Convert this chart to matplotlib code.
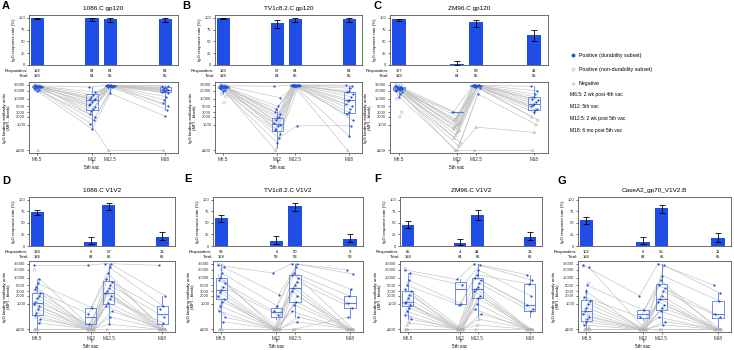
import numpy as np
import matplotlib
matplotlib.use('Agg')
import matplotlib.pyplot as plt
import matplotlib.transforms as mtransforms
from matplotlib.lines import Line2D

# time points and their spacing along x
times = ['M6.5', 'M12', 'M12.5', 'M18']
xpos = [1, 4, 5, 8]

titles = ['1086.C gp120', 'TV1c8.2.C gp120', 'ZM96.C gp120',
          '1086.C V1V2', 'TV1c8.2.C V1V2', 'ZM96.C V1V2', 'CaseA2_gp70_V1V2.B']
letters = ['A', 'B', 'C', 'D', 'E', 'F', 'G']

# responders / totals per time point
a_resp = [182, 64, 64, 64]; a_total = [183, 64, 65, 65]
b_resp = [183, 57, 64, 64]; b_total = [184, 64, 65, 65]
c_resp = [177, 1, 59, 41]; c_total = [183, 64, 65, 65]
d_resp = [134, 6, 57, 13]; d_total = [184, 64, 65, 65]
e_resp = [96, 6, 50, 9]; e_total = [158, 58, 58, 58]
f_resp = [85, 4, 44, 13]; f_total = [184, 64, 65, 65]
g_resp = [102, 6, 53, 11]; g_total = [184, 64, 65, 65]

# 95% CI of response rate (%), low / high
a_lo = [97.0, 94.3, 91.8, 91.8]; a_hi = [99.9, 100, 99.7, 99.7]
b_lo = [97.0, 79.1, 91.8, 91.8]; b_hi = [99.9, 94.6, 99.7, 99.7]
c_lo = [93.0, 0.3, 81.3, 50.9]; c_hi = [98.5, 8.3, 95.7, 73.8]
d_lo = [66.0, 4.4, 77.5, 12.1]; d_hi = [78.7, 19.0, 93.6, 31.3]
e_lo = [53.0, 4.8, 75.1, 8.4]; e_hi = [68.0, 20.8, 92.8, 26.9]
f_lo = [39.2, 2.5, 55.6, 12.1]; f_hi = [53.4, 15.0, 77.8, 31.3]
g_lo = [48.2, 4.4, 70.4, 9.7]; g_hi = [62.4, 19.0, 89.1, 27.8]

# box stats of positive responders: (q1, median, q3, whisker low, whisker high)
a_box = [(27000, 30000, 32000, 20000, 35000), (3800, 9000, 15000, 680, 28000),
         (30000, 32000, 33000, 16000, 35000), (17500, 22000, 28000, 3800, 33000)]
b_box = [(26000, 29000, 31000, 15000, 34000), (590, 1060, 1800, 120, 4000),
         (31000, 32500, 33500, 28000, 35000), (2800, 8600, 18000, 340, 35000)]
c_box = [(22000, 25000, 28000, 12000, 34000), (3000, 3000, 3000, 3000, 3000),
         (30000, 32000, 33000, 25000, 35000), (3500, 6500, 12000, 2500, 30000)]
d_box = [(370, 1060, 2500, 100, 9000), (156, 316, 660, 140, 800),
         (1000, 2600, 7200, 160, 35000), (156, 410, 830, 140, 2000)]
e_box = [(1480, 3360, 10000, 120, 35000), (316, 480, 700, 250, 800),
         (1200, 4000, 13000, 300, 35000), (700, 1100, 2000, 270, 3500)]
f_box = [(820, 1160, 3160, 250, 15000), (950, 3500, 6700, 900, 8500),
         (1580, 3800, 10000, 300, 35000), (530, 870, 5800, 300, 13000)]
g_box = [(218, 500, 1370, 100, 3500), (290, 380, 560, 230, 600),
         (575, 1500, 5700, 170, 35000), (290, 410, 1300, 130, 2500)]

# positivity cut-offs per time point (below = negative)
a_cut = [150, 150, 150, 150]
b_cut = [150, 150, 150, 150]
c_cut = [2000, 2900, 2000, 2400]
d_cut = [140, 140, 140, 140]
e_cut = [140, 140, 140, 140]
f_cut = [250, 800, 300, 300]
g_cut = [140, 140, 140, 140]

# durability subset, same subjects in the same order at each visit
a_m6_5 = [32000, 30000, 31000, 29000, 33000, 28000, 30000, 27000, 31000, 26000, 29000, 25000, 30000, 24000, 28000, 22000, 20000, 27000]
a_m12 = [28000, 18000, 14000, 12000, 10000, 9500, 8500, 7500, 6500, 5500, 4800, 4000, 3200, 2500, 2000, 1500, 680, 1100]
a_m12_5 = [33000, 32000, 33000, 32000, 33000, 31000, 32000, 32000, 33000, 31000, 32000, 30000, 31000, 29000, 30000, 28000, 16000, 100]
a_m18 = [32000, 30000, 26000, 25000, 24000, 22000, 21000, 20000, 19000, 18000, 16000, 12000, 9000, 7000, 5000, 3800, 2100, 100]

b_m6_5 = [32000, 31000, 30000, 29000, 33000, 28000, 30000, 27000, 31000, 26000, 29000, 25000, 30000, 24000, 28000, 22000, 20000, 27000]
b_m12 = [30000, 11000, 5000, 4000, 3000, 2500, 2000, 1800, 1500, 1200, 1000, 850, 700, 600, 450, 300, 200, 100]
b_m12_5 = [34000, 33000, 33000, 32000, 34000, 33000, 32000, 33000, 34000, 32000, 33000, 31000, 32000, 33000, 31000, 900, 30000, 32000]
b_m18 = [33000, 30000, 25000, 20000, 18000, 15000, 12000, 9000, 8000, 6000, 5000, 4000, 3000, 2500, 1500, 900, 350, 100]

c_m6_5 = [30000, 28000, 27000, 25000, 32000, 24000, 26000, 23000, 29000, 22000, 25000, 21000, 27000, 20000, 18000, 15000, 12000, 24000]
c_m12 = [3000, 2500, 2000, 1600, 1400, 1200, 1000, 900, 800, 700, 600, 500, 400, 300, 200, 150, 100, 100]
c_m12_5 = [33000, 33000, 32000, 34000, 33000, 32000, 33000, 31000, 33000, 32000, 30000, 31000, 28000, 32000, 25000, 15000, 800, 100]
c_m18 = [30000, 20000, 15000, 12000, 10000, 9000, 7500, 6500, 5500, 5000, 4000, 3500, 3000, 2000, 1500, 1000, 500, 100]

d_m6_5 = [30000, 9000, 6000, 4500, 3500, 2500, 2000, 1600, 1200, 1000, 800, 600, 450, 350, 250, 180, 100, 100]
d_m12 = [30000, 100, 700, 100, 400, 100, 100, 100, 160, 100, 100, 100, 100, 100, 100, 100, 100, 100]
d_m12_5 = [35000, 33000, 25000, 15000, 9000, 7000, 5000, 4000, 3000, 2600, 2000, 1500, 1100, 800, 500, 300, 160, 100]
d_m18 = [30000, 2000, 800, 100, 600, 100, 300, 100, 100, 100, 100, 180, 100, 100, 100, 100, 100, 100]

e_m6_5 = [30000, 25000, 15000, 10000, 8000, 6000, 4500, 3400, 2800, 2000, 1500, 1200, 800, 500, 300, 200, 100, 100]
e_m12 = [15000, 2200, 800, 100, 500, 100, 350, 100, 100, 100, 100, 100, 100, 100, 100, 100, 100, 100]
e_m12_5 = [35000, 33000, 25000, 15000, 13000, 10000, 7000, 5000, 4000, 3000, 2000, 1200, 900, 500, 300, 200, 100, 100]
e_m18 = [20000, 14000, 3500, 2000, 1100, 100, 700, 100, 100, 100, 100, 100, 100, 100, 100, 100, 100, 300]

f_m6_5 = [20000, 15000, 8000, 5000, 3500, 3000, 2200, 1600, 1200, 1100, 900, 700, 500, 350, 250, 180, 100, 100]
f_m12 = [8500, 5000, 1000, 900, 100, 100, 100, 100, 100, 100, 100, 100, 100, 100, 100, 100, 100, 100]
f_m12_5 = [35000, 30000, 20000, 13000, 10000, 8000, 6000, 4500, 3800, 3000, 2000, 1600, 1000, 600, 400, 250, 150, 100]
f_m18 = [13000, 8000, 2000, 5800, 900, 600, 500, 100, 100, 100, 100, 100, 100, 100, 100, 100, 100, 100]

g_m6_5 = [30000, 25000, 5000, 3000, 1800, 1300, 1000, 700, 500, 400, 300, 250, 200, 150, 100, 100, 100, 100]
g_m12 = [2000, 100, 550, 100, 300, 100, 100, 100, 100, 100, 100, 100, 100, 100, 100, 100, 100, 100]
g_m12_5 = [35000, 30000, 12000, 8000, 5000, 4000, 3000, 2000, 1500, 1200, 900, 700, 500, 300, 200, 150, 100, 100]
g_m18 = [5000, 2500, 1300, 100, 400, 100, 300, 100, 100, 100, 100, 100, 100, 100, 100, 100, 100, 100]

# non-durability subset at M6.5 (no follow-up)
a_nd = [34000, 33000, 31000, 30500, 29500, 28500, 27500, 26500, 25000, 23000, 21000, 19000, 100]
b_nd = [34000, 33000, 32000, 31000, 30000, 29000, 27000, 25000, 22000, 18000, 15000, 12000, 7000]
c_nd = [34000, 33000, 31000, 30000, 28000, 26000, 24000, 20000, 17000, 14000, 10000, 3000, 2000]
d_nd = [20000, 8000, 5000, 3000, 2200, 1500, 1100, 900, 700, 500, 300, 200, 100, 100, 100]
e_nd = [33000, 28000, 20000, 12000, 7000, 4000, 2500, 1800, 1300, 900, 600, 400, 100, 100]
f_nd = [22000, 12000, 6000, 3000, 2000, 1500, 1200, 1000, 800, 600, 400, 300, 200, 150, 100]
g_nd = [28000, 6000, 2500, 1500, 1000, 800, 600, 450, 350, 250, 180, 120, 100, 100]

BAR_BLUE = '#1f4de6'
PT_BLUE = '#2450d8'
BOX_BLUE = '#5a7fe2'
OPEN_BLUE = '#9fb4ec'
NEG_GRAY = '#b3b3b3'
LINE_GRAY = '#c2c2c2'
FS = 3.0

plt.rcParams['font.family'] = ['Liberation Sans', 'DejaVu Sans']
plt.rcParams['axes.linewidth'] = 0.6
plt.rcParams['axes.edgecolor'] = '#555555'

fig = plt.figure(figsize=(7.34, 3.5), dpi=100)
W, H = 734.0, 350.0

# pixel layout: (left, right) for each panel, rows: (bar top, bar bottom, box top, box bottom)
xs = [(29, 178), (215, 362), (390, 548), (29, 175), (213, 363), (400, 542), (578, 731)]
rows = [(15, 65, 82, 153), (197, 246, 261, 332)]
letter_xy = [(2, 1), (182, 1), (374, 1), (2, 176), (184, 174), (374, 174), (557, 176)]

panels = [
    (a_resp, a_total, a_lo, a_hi, a_box, a_cut, [a_m6_5, a_m12, a_m12_5, a_m18], a_nd),
    (b_resp, b_total, b_lo, b_hi, b_box, b_cut, [b_m6_5, b_m12, b_m12_5, b_m18], b_nd),
    (c_resp, c_total, c_lo, c_hi, c_box, c_cut, [c_m6_5, c_m12, c_m12_5, c_m18], c_nd),
    (d_resp, d_total, d_lo, d_hi, d_box, d_cut, [d_m6_5, d_m12, d_m12_5, d_m18], d_nd),
    (e_resp, e_total, e_lo, e_hi, e_box, e_cut, [e_m6_5, e_m12, e_m12_5, e_m18], e_nd),
    (f_resp, f_total, f_lo, f_hi, f_box, f_cut, [f_m6_5, f_m12, f_m12_5, f_m18], f_nd),
    (g_resp, g_total, g_lo, g_hi, g_box, g_cut, [g_m6_5, g_m12, g_m12_5, g_m18], g_nd),
]

yticks = [100, 1000, 2000, 3000, 5000, 10000, 20000, 35000]
ytlabels = ['≤100', '1000', '2000', '3000', '5000', '10000', '20000', '35000']


def style_ticks(ax):
    ax.tick_params(labelsize=FS, length=1.5, width=0.5, pad=1.2, colors='#333333')


for k, (resp, total, lo, hi, box, cut, visits, nd) in enumerate(panels):
    x0, x1 = xs[k]
    r = rows[0] if k < 3 else rows[1]
    bt, bb, lt, lb = r
    ax_bar = fig.add_axes([x0 / W, 1 - bb / H, (x1 - x0) / W, (bb - bt) / H])
    ax_box = fig.add_axes([x0 / W, 1 - lb / H, (x1 - x0) / W, (lb - lt) / H])

    # --- response rate bars
    rate = [100.0 * n / t for n, t in zip(resp, total)]
    err = [np.array(rate) - np.array(lo), np.array(hi) - np.array(rate)]
    ax_bar.bar(xpos, rate, width=0.72, color=BAR_BLUE, zorder=2)
    ax_bar.errorbar(xpos, rate, yerr=err, fmt='none', ecolor='black',
                    elinewidth=0.6, capsize=2.2, capthick=0.6, zorder=3)
    ax_bar.set_xlim(0.55, 8.7)
    ax_bar.set_ylim(0, 106)
    ax_bar.set_yticks([0, 25, 50, 75, 100])
    ax_bar.set_xticks([])
    style_ticks(ax_bar)
    ax_bar.set_ylabel('IgG response rate (%)', fontsize=3.2, labelpad=2)
    ax_bar.set_title(titles[k], fontsize=4.6, pad=3.5)

    trans = mtransforms.blended_transform_factory(ax_bar.transData, ax_bar.transAxes)
    ax_bar.text(-0.005, -0.12, 'Responders:', transform=ax_bar.transAxes,
                ha='right', va='center', fontsize=FS)
    ax_bar.text(-0.005, -0.22, 'Total:', transform=ax_bar.transAxes,
                ha='right', va='center', fontsize=FS)
    for xp, n, t in zip(xpos, resp, total):
        ax_bar.text(xp, -0.12, str(n), transform=trans, ha='center', va='center', fontsize=FS)
        ax_bar.text(xp, -0.22, str(t), transform=trans, ha='center', va='center', fontsize=FS)

    # --- binding antibody panel
    n_sub = len(visits[0])
    jit = [((i * 7) % 9 - 4) * 0.045 for i in range(n_sub)]
    for i in range(n_sub):
        ax_box.plot([xpos[t] + jit[i] for t in range(4)], [visits[t][i] for t in range(4)],
                    color=LINE_GRAY, lw=0.45, zorder=1)

    stats = []
    for q1, med, q3, wlo, whi in box:
        stats.append(dict(q1=q1, med=med, q3=q3, whislo=wlo, whishi=whi, fliers=[]))
    ax_box.bxp(stats, positions=xpos, widths=0.62, showcaps=False, manage_ticks=False,
               boxprops=dict(color=BOX_BLUE, lw=0.6),
               medianprops=dict(color=BOX_BLUE, lw=0.8),
               whiskerprops=dict(color=BOX_BLUE, lw=0.6), zorder=2)

    # non-durability subset at M6.5
    jit_nd = [((i * 5) % 7 - 3) * 0.05 for i in range(len(nd))]
    for i, v in enumerate(nd):
        if v >= cut[0]:
            ax_box.scatter(xpos[0] + jit_nd[i], v, s=3.5, facecolors='none',
                           edgecolors=OPEN_BLUE, linewidths=0.4, zorder=3)
        else:
            ax_box.scatter(xpos[0] + jit_nd[i], v, s=3.5, marker='^', facecolors='none',
                           edgecolors=NEG_GRAY, linewidths=0.4, zorder=3)

    for t in range(4):
        for i, v in enumerate(visits[t]):
            if v >= cut[t]:
                ax_box.scatter(xpos[t] + jit[i], v, s=2.5, color=PT_BLUE, lw=0, zorder=4)
            else:
                ax_box.scatter(xpos[t] + jit[i], v, s=3.5, marker='^', facecolors='none',
                               edgecolors=NEG_GRAY, linewidths=0.4, zorder=3)

    ax_box.set_yscale('log')
    ax_box.set_ylim(80, 44000)
    ax_box.set_xlim(0.55, 8.7)
    ax_box.set_yticks(yticks)
    ax_box.set_yticklabels(ytlabels)
    ax_box.minorticks_off()
    ax_box.set_xticks(xpos)
    ax_box.set_xticklabels(times)
    style_ticks(ax_box)
    ax_box.tick_params(axis='x', labelsize=3.3)
    ax_box.set_ylabel('IgG binding antibody units\n(MFI - blank)', fontsize=3.2, labelpad=2,
                      linespacing=1.2)
    tb = mtransforms.blended_transform_factory(ax_box.transData, ax_box.transAxes)
    ax_box.text(xpos[1], -0.14, '↑', transform=tb, ha='center', va='center', fontsize=3.4,
                family=['DejaVu Sans'])
    ax_box.text(xpos[1], -0.205, '5th vac', transform=tb, ha='center', va='center', fontsize=3.3)

    lx, ly = letter_xy[k]
    fig.text(lx / W, 1 - ly / H, letters[k], fontsize=8, fontweight='bold', va='top')

# legend
handles = [
    Line2D([], [], ls='none', marker='o', ms=1.8, color=PT_BLUE, mec=PT_BLUE),
    Line2D([], [], ls='none', marker='o', ms=2.0, mfc='none', mec=OPEN_BLUE, mew=0.5),
    Line2D([], [], ls='none', marker='^', ms=2.0, mfc='none', mec=NEG_GRAY, mew=0.5),
]
labels = ['Positive (durability subset)', 'Positive (non-durability subset)', 'Negative']
fig.legend(handles, labels, loc='upper left', bbox_to_anchor=(568 / W, 1 - 50 / H),
           frameon=False, fontsize=3.8, labelspacing=1.7, handlelength=0.9,
           handletextpad=0.6, borderpad=0)

notes = ['M6.5: 2 wk post 4th vac', 'M12: 5th vac', 'M12.5: 2 wk post 5th vac',
         'M18: 6 mo post 5th vac']
for i, s in enumerate(notes):
    fig.text(570 / W, 1 - (95 + 11.8 * i) / H, s, fontsize=3.6, va='center')

fig.savefig('out.png', dpi=100)
